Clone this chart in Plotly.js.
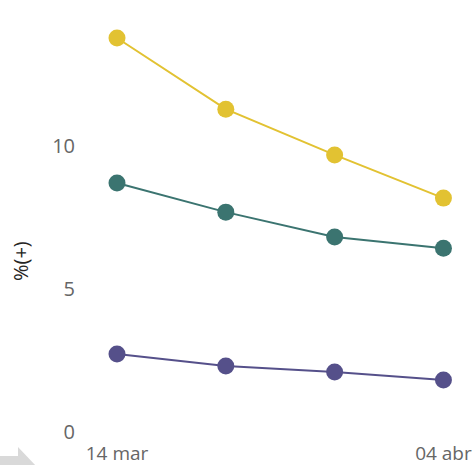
<!DOCTYPE html>
<html>
<head>
<meta charset="utf-8">
<script src="https://cdn.plot.ly/plotly-3.0.1.min.js"></script>
<style>html,body{margin:0;padding:0;background:#fff;overflow:hidden}#chart{width:475px;height:465px}</style>
</head>
<body>
<div id="chart"></div>
<script>
const dates = ['14 mar', '21 mar', '28 mar', '04 abr'];
const xIdx = [0, 1, 2, 3];
const tickIdx = [0, 3];
const tickLabels = ['14 mar', '04 abr'];
const seriesYellow = [13.78, 11.29, 9.69, 8.18];
const seriesTeal = [8.71, 7.69, 6.82, 6.43];
const seriesPurple = [2.73, 2.31, 2.10, 1.82];
const yTitle = '%(+)';

function tr(y, color) {
  return {
    x: xIdx, y: y, text: dates, type: 'scatter', mode: 'lines+markers',
    line: {color: color, width: 2},
    marker: {color: color, size: 17},
    cliponaxis: false, showlegend: false,
    hovertemplate: '%{text}: %{y}<extra></extra>'
  };
}

const data = [tr(seriesYellow, '#E2C232'), tr(seriesTeal, '#3B7470'), tr(seriesPurple, '#55508A')];

const plotW = 475 - 80, plotH = 465 - 20 - 25;
function px(x) { return (x - 80) / plotW; }
function py(y) { return (465 - 25 - y) / plotH; }

const layout = {
  width: 475, height: 465,
  margin: {l: 80, r: 0, t: 20, b: 25},
  paper_bgcolor: '#fff', plot_bgcolor: '#fff',
  font: {family: '"Open Sans", "Noto Sans", sans-serif', color: '#666'},
  xaxis: {
    range: [-0.34, 3.29], tickvals: tickIdx, ticktext: tickLabels,
    showgrid: false, zeroline: false, showline: false, ticks: '',
    tickfont: {size: 19, color: '#666'}
  },
  yaxis: {
    range: [-0.28, 14.41], tickvals: [0, 5, 10],
    showgrid: false, zeroline: false, showline: false, ticks: '',
    tickfont: {size: 20, color: '#666'}, ticklabelstandoff: 4
  },
  annotations: [{
    text: yTitle, xref: 'paper', yref: 'paper', x: px(20), y: py(261),
    xanchor: 'center', yanchor: 'middle', textangle: -90, showarrow: false,
    font: {size: 20, color: '#252423'}
  }],
  shapes: [{
    type: 'path', xref: 'paper', yref: 'paper', layer: 'above',
    path: `M ${px(0)} ${py(456)} L ${px(18)} ${py(456)} L ${px(18)} ${py(447)} L ${px(36)} ${py(466)} L ${px(0)} ${py(466)} Z`,
    fillcolor: '#d9d9d9', line: {width: 0}
  }]
};

Plotly.newPlot('chart', data, layout, {displayModeBar: false, staticPlot: true});
</script>
</body>
</html>
